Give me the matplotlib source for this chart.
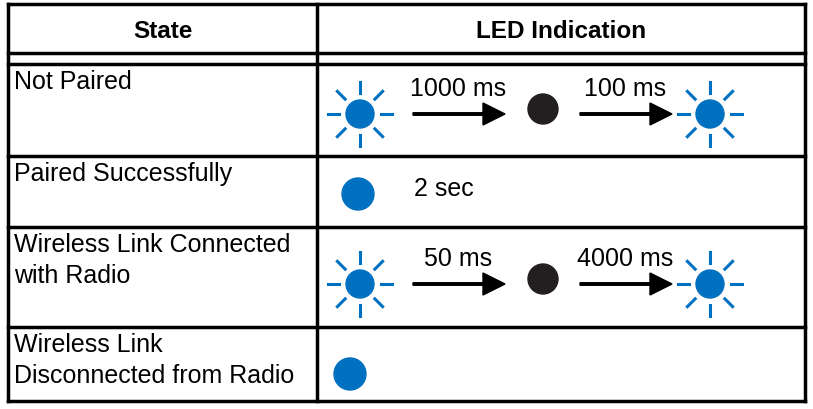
import matplotlib
matplotlib.use("Agg")
import matplotlib.pyplot as plt
import numpy as np
from matplotlib.patches import Circle, FancyArrow

headers = ["State", "LED Indication"]
states = ["Not Paired", "Paired Successfully",
          "Wireless Link Connected\nwith Radio", "Wireless Link\nDisconnected from Radio"]
# each LED sequence: list of (kind, label) steps
sequences = [
    [("sun", None), ("arrow", "1000 ms"), ("off", None), ("arrow", "100 ms"), ("sun", None)],
    [("on", None), ("text", "2 sec")],
    [("sun", None), ("arrow", "50 ms"), ("off", None), ("arrow", "4000 ms"), ("sun", None)],
    [("on", None)],
]

BLUE = "#0070C0"
FS = 18
fig = plt.figure(figsize=(8.13, 4.10), dpi=100)
ax = fig.add_axes([0, 0, 1, 1])
ax.set_xlim(0, 813); ax.set_ylim(410, 0); ax.axis("off")

L, R, C = 8, 805, 317
ys = [5, 54, 65, 157, 228, 328, 402]
lw = 2.5
for y in ys:
    ax.plot([L, R], [y, y], color="black", lw=lw, solid_capstyle="projecting")
for x in [L, C, R]:
    ax.plot([x, x], [ys[0], ys[-1]], color="black", lw=lw, solid_capstyle="projecting")

ax.text((L + C) / 2, 31, headers[0], ha="center", va="center", fontsize=FS - 0.5, fontweight="bold", family="Liberation Sans")
ax.text((C + R) / 2, 31, headers[1], ha="center", va="center", fontsize=FS - 0.5, fontweight="bold", family="Liberation Sans")

def sun(x, y):
    ax.add_patch(Circle((x, y), 14, color=BLUE))
    for a in np.arange(0, 360, 45):
        c, s = np.cos(np.radians(a)), np.sin(np.radians(a))
        ax.plot([x + 21 * c, x + 32 * c], [y + 21 * s, y + 32 * s], color=BLUE, lw=2.2)

row_tops = ys[2:6]
centers = [115, 195, 285, 375]
for i, (st, seq) in enumerate(zip(states, sequences)):
    top = row_tops[i]
    ax.text(14, top + 5, st, ha="left", va="top", fontsize=FS, family="Liberation Sans", linespacing=1.35)
    cy = centers[i]
    x = 360 if i != 3 else 352
    for kind, lab in seq:
        if kind == "sun":
            sun(x, cy); x += 53
        elif kind == "on":
            ax.add_patch(Circle((x - 2, cy), 16, color=BLUE)); x += 54
        elif kind == "off":
            ax.add_patch(Circle((x, cy - 5), 15, color="#231F20")); x += 37
        elif kind == "arrow":
            ax.add_patch(FancyArrow(x, cy, 70, 0, width=2.5, head_width=22, head_length=22,
                                    length_includes_head=False, color="black"))
            ax.text(x + 45, cy - 14, lab, ha="center", va="bottom", fontsize=FS, family="Liberation Sans")
            x += 130
        elif kind == "text":
            ax.text(x, cy - 6, lab, ha="left", va="center", fontsize=FS, family="Liberation Sans")

fig.savefig("out.png", dpi=100)
